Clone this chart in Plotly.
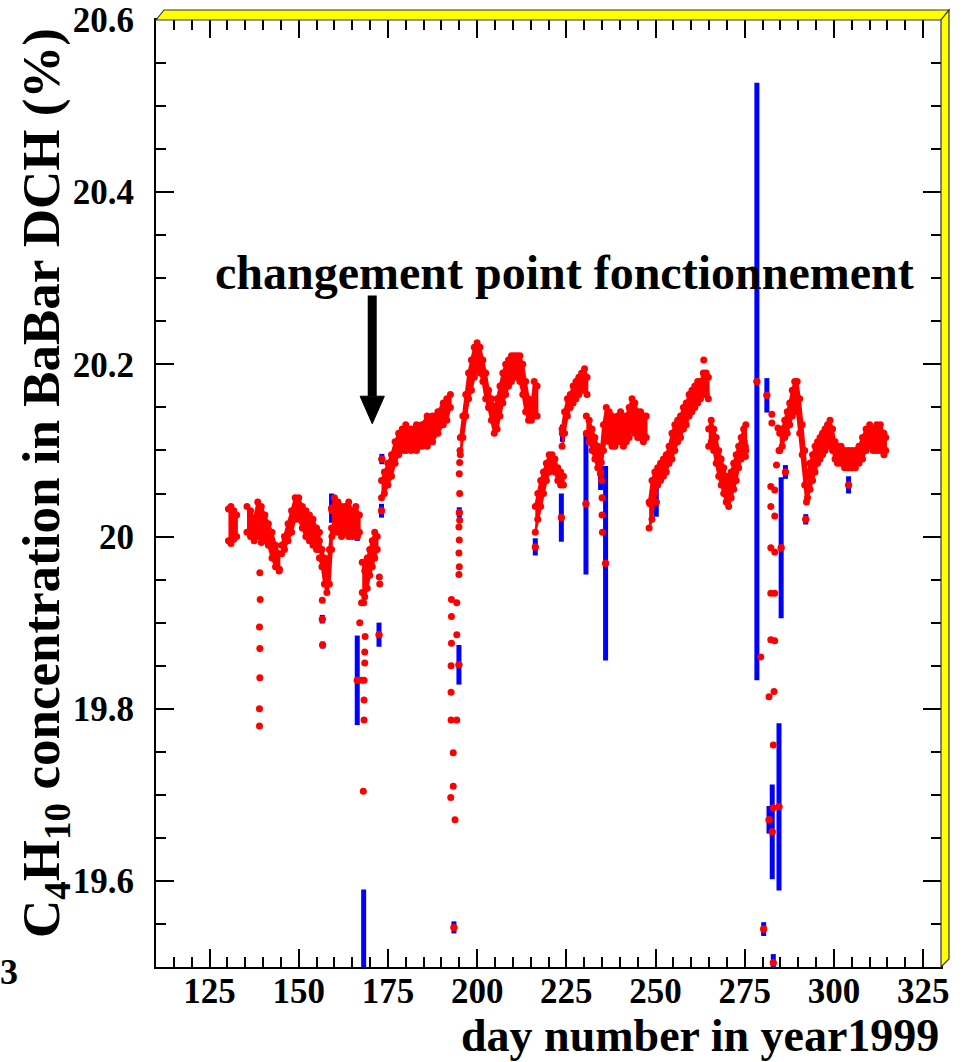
import plotly.graph_objects as go

# ---------------- data ----------------
x_range = [110, 330]
y_range = [19.5, 20.6]
x_ticks = [125, 150, 175, 200, 225, 250, 275, 300, 325]
y_ticks = [19.6, 19.8, 20.0, 20.2, 20.4, 20.6]
y_ticktext = ["19.6", "19.8", "20", "20.2", "20.4", "20.6"]

# continuous measurement bands: day, lower edge, upper edge
seg1_days = [130.3, 131.0, 131.8, 132.6]
seg1_lo = [19.995, 19.992, 19.997, 20.0]
seg1_hi = [20.032, 20.035, 20.03, 20.025]

seg2_days = [135.5, 136.5, 137.5, 138.5, 139.5, 140.5, 141.5, 142.5, 143.5, 144.5]
seg2_lo = [20.005, 20.0, 19.995, 20.0, 20.0, 19.995, 19.99, 19.975, 19.965, 19.96]
seg2_hi = [20.035, 20.03, 20.02, 20.04, 20.035, 20.025, 20.015, 20.005, 19.99, 19.98]

seg3_days = [145.2, 146, 147, 148, 149, 150, 151, 152, 153, 154, 155, 155.8]
seg3_lo = [19.98, 19.985, 19.995, 20.005, 20.02, 20.02, 20.01, 20.0, 19.995, 19.99, 19.985, 19.985]
seg3_hi = [19.99, 20.0, 20.015, 20.03, 20.045, 20.045, 20.035, 20.03, 20.025, 20.02, 20.01, 20.005]

seg4_days = [155.8, 156.5, 157.2, 157.9, 158.6, 159.2]
seg4_lo = [19.975, 19.965, 19.945, 19.935, 19.945, 19.985]
seg4_hi = [19.995, 19.985, 19.975, 19.965, 19.985, 20.01]

seg5_days = [159.3, 160, 161, 162, 163, 164, 165, 166, 167]
seg5_lo = [20.0, 20.005, 20.005, 20.0, 20.005, 20.0, 20.0, 20.0, 20.005]
seg5_hi = [20.03, 20.045, 20.04, 20.035, 20.035, 20.04, 20.03, 20.035, 20.025]

seg6_days = [167.8, 168.5, 169.2, 169.9, 170.6, 171.3, 172.0]
seg6_lo = [19.935, 19.93, 19.94, 19.955, 19.965, 19.975, 19.985]
seg6_hi = [19.97, 19.96, 19.975, 19.985, 19.995, 20.005, 20.0]

seg7_days = [173.2, 174, 175, 176, 177, 178, 179, 180, 181.5, 183, 184.5, 186, 187.5, 189, 190.5, 191.5, 192.5]
seg7_lo = [20.045, 20.05, 20.06, 20.07, 20.085, 20.095, 20.1, 20.1, 20.1, 20.1, 20.105, 20.105, 20.11, 20.12, 20.13, 20.135, 20.15]
seg7_hi = [20.065, 20.075, 20.085, 20.095, 20.11, 20.12, 20.125, 20.13, 20.125, 20.13, 20.13, 20.14, 20.14, 20.145, 20.155, 20.16, 20.165]

seg8_days = [195.3, 196, 196.8, 197.6, 198.4, 199.2, 200, 200.8, 201.6, 202.4, 203.2, 204, 204.8, 205.6,
             206.4, 207.2, 208, 208.8, 209.6, 210.4, 211.2, 212, 212.8, 213.6, 214.4, 215.2, 216, 216.8]
seg8_lo = [20.095, 20.115, 20.14, 20.16, 20.17, 20.185, 20.195, 20.19, 20.18, 20.16, 20.15, 20.135, 20.12, 20.125,
           20.14, 20.155, 20.165, 20.175, 20.18, 20.185, 20.185, 20.18, 20.165, 20.145, 20.135, 20.135, 20.14, 20.14]
seg8_hi = [20.115, 20.14, 20.165, 20.19, 20.205, 20.22, 20.225, 20.22, 20.205, 20.19, 20.17, 20.16, 20.15, 20.16,
           20.175, 20.19, 20.2, 20.205, 20.21, 20.21, 20.21, 20.21, 20.2, 20.18, 20.16, 20.15, 20.18, 20.175]

seg9_days = [216.3, 217, 217.8, 218.6, 219.4, 220.2, 221, 221.8, 222.6, 223.4, 224.2]
seg9_lo = [20.005, 20.02, 20.035, 20.05, 20.065, 20.075, 20.08, 20.075, 20.065, 20.06, 20.06]
seg9_hi = [20.035, 20.05, 20.065, 20.075, 20.085, 20.095, 20.095, 20.09, 20.08, 20.075, 20.07]

seg10_days = [223.8, 224.5, 225.3, 226.1, 226.9, 227.7, 228.5, 229.3, 230.1, 230.8]
seg10_lo = [20.105, 20.12, 20.14, 20.15, 20.155, 20.16, 20.165, 20.17, 20.17, 20.165]
seg10_hi = [20.125, 20.145, 20.16, 20.165, 20.175, 20.18, 20.185, 20.19, 20.195, 20.185]

seg11_days = [230.6, 231.4, 232.2, 233, 233.8, 234.6, 235.4, 236.2, 237, 237.8, 238.6, 239.4, 240.2, 241,
              241.8, 242.6, 243.4, 244.2, 245, 245.8, 246.6, 247.4]
seg11_lo = [20.12, 20.11, 20.1, 20.09, 20.08, 20.075, 20.1, 20.115, 20.11, 20.105, 20.105, 20.11, 20.11, 20.105,
            20.11, 20.115, 20.125, 20.12, 20.115, 20.115, 20.11, 20.115]
seg11_hi = [20.14, 20.135, 20.125, 20.115, 20.105, 20.095, 20.13, 20.15, 20.145, 20.14, 20.135, 20.14, 20.145, 20.14,
            20.14, 20.15, 20.16, 20.155, 20.145, 20.145, 20.14, 20.14]

seg12_days = [248.2, 249, 249.8, 250.6, 251.4, 252.2, 253, 253.8, 254.6, 255.4, 256.2, 257, 257.8, 258.6,
              259.4, 260.2, 261, 261.8, 262.6, 263.4, 264.2, 264.8]
seg12_lo = [20.01, 20.02, 20.05, 20.06, 20.065, 20.07, 20.075, 20.085, 20.09, 20.1, 20.11, 20.115, 20.125, 20.13,
            20.14, 20.145, 20.15, 20.155, 20.16, 20.165, 20.165, 20.16]
seg12_hi = [20.04, 20.065, 20.075, 20.08, 20.085, 20.09, 20.095, 20.105, 20.12, 20.13, 20.135, 20.14, 20.15, 20.155,
            20.165, 20.17, 20.175, 20.18, 20.18, 20.19, 20.19, 20.185]

seg13_days = [264.9, 265.6, 266.3, 267, 267.7, 268.4, 269.1, 269.8, 270.5, 271.2, 271.9, 272.6, 273.3, 274, 274.7, 275.3]
seg13_lo = [20.105, 20.11, 20.1, 20.085, 20.07, 20.06, 20.05, 20.04, 20.035, 20.045, 20.055, 20.065, 20.08, 20.09, 20.1, 20.1]
seg13_hi = [20.125, 20.135, 20.125, 20.115, 20.1, 20.09, 20.08, 20.07, 20.065, 20.075, 20.085, 20.095, 20.105, 20.115, 20.125, 20.13]

seg14_days = [284.8, 285.5, 286.2, 286.9, 287.6, 288.3, 289, 289.7, 290.4, 291.1, 291.8, 292.3]
seg14_lo = [20.1, 20.105, 20.115, 20.12, 20.13, 20.14, 20.15, 20.145, 20.12, 20.095, 20.06, 20.04]
seg14_hi = [20.12, 20.125, 20.135, 20.145, 20.155, 20.17, 20.18, 20.18, 20.16, 20.13, 20.1, 20.075]

seg15_days = [292.6, 293.3, 294, 294.7, 295.4, 296.1, 296.8, 297.5, 298.2, 298.9, 299.6, 300.3, 301, 302,
              303, 304, 305, 306, 307, 308, 309, 310, 311, 312, 313, 314, 314.5]
seg15_lo = [20.045, 20.055, 20.065, 20.075, 20.085, 20.09, 20.095, 20.1, 20.105, 20.11, 20.1, 20.09, 20.085, 20.085,
            20.08, 20.08, 20.08, 20.08, 20.085, 20.09, 20.1, 20.105, 20.1, 20.1, 20.1, 20.095, 20.1]
seg15_hi = [20.07, 20.085, 20.095, 20.105, 20.11, 20.115, 20.12, 20.125, 20.13, 20.135, 20.125, 20.11, 20.105, 20.105,
            20.1, 20.1, 20.1, 20.1, 20.105, 20.115, 20.125, 20.13, 20.125, 20.13, 20.13, 20.12, 20.115]

# isolated measurements (no visible error bar)
iso_days = [139.1, 139.2, 139.0, 139.1, 139.1, 139.0, 139.0, 139.5, 144.6, 156.6,
            167.6, 168.2, 167.1, 168.6, 168.5, 168.5, 167.6, 168.3, 168.3, 168.3, 168.1,
            172.6, 172.7,
            195.2, 195.1, 195.0, 195.1, 195.1, 194.9, 195.0, 194.9, 195.0, 194.9,
            192.8, 194.3, 192.8, 194.3, 192.8, 192.7, 192.7, 192.7, 194.3, 193.3, 193.3, 192.6, 193.8,
            234.8, 234.9, 235.0, 235.0, 235.1, 248.4, 263.5, 275.2, 279.5,
            282.6, 282.6, 284.3, 284.6, 283.9, 282.3, 283.4, 282.3, 283.4, 282.3, 283.4, 282.3, 283.4,
            282.3, 283.4, 281.8, 283.2, 283.0, 283.0]
iso_vals = [19.958, 19.927, 19.895, 19.870, 19.836, 19.800, 19.780, 19.993, 19.962, 19.926,
            19.923, 19.923, 19.900, 19.884, 19.866, 19.853, 19.833, 19.833, 19.810, 19.787, 19.704,
            19.953, 19.945,
            20.100, 20.086, 20.073, 20.050, 20.019, 20.011, 19.996, 19.981, 19.965, 19.956,
            19.927, 19.923, 19.907, 19.886, 19.876, 19.850, 19.819, 19.787, 19.787, 19.749, 19.710, 19.697, 19.671,
            20.086, 20.065, 20.045, 20.025, 20.005, 20.038, 20.205, 20.093, 19.860,
            20.142, 20.132, 20.126, 20.100, 20.083, 20.058, 20.054, 20.035, 20.024, 19.987, 19.982, 19.934, 19.934,
            19.880, 19.879, 19.814, 19.820, 19.758, 19.685]

# measurements with a visible error bar
err_days = [156.6, 156.7, 159.2, 166.4, 166.4, 168.2, 172.5, 173.3, 173.2, 186.0, 193.5, 194.9, 195.0,
            203.4, 216.3, 223.6, 223.9, 230.5, 234.6, 236.0, 243.3, 250.2, 275.1, 278.4, 280.3,
            281.2, 281.8, 282.7, 284.6, 283.0, 285.2, 286.4, 292.1, 304.1]
err_vals = [19.904, 19.874, 20.033, 20.000, 19.833, 19.420, 19.886, 20.090, 20.030, 20.110, 19.546, 19.851, 20.028,
            20.152, 19.988, 20.022, 20.120, 20.038, 20.073, 19.969, 20.128, 20.040, 20.105, 20.180, 19.544,
            20.164, 19.671, 19.657, 19.686, 19.505, 19.987, 20.075, 20.020, 20.060]
err_size = [0.005, 0.004, 0.017, 0.005, 0.052, 0.170, 0.014, 0.006, 0.008, 0.004, 0.007, 0.023, 0.006,
            0.006, 0.010, 0.028, 0.010, 0.082, 0.019, 0.113, 0.005, 0.017, 0.007, 0.347, 0.008,
            0.020, 0.016, 0.055, 0.097, 0.010, 0.082, 0.008, 0.006, 0.010]

annotation_text = "changement point fonctionnement"
annotation_pos = (224.4, 20.307)
arrow_x = 170.6
arrow_top, arrow_base, arrow_tip = 20.280, 20.163, 20.131
arrow_half_width = 3.4

segments = [
    (seg1_days, seg1_lo, seg1_hi), (seg2_days, seg2_lo, seg2_hi), (seg3_days, seg3_lo, seg3_hi),
    (seg4_days, seg4_lo, seg4_hi), (seg5_days, seg5_lo, seg5_hi), (seg6_days, seg6_lo, seg6_hi),
    (seg7_days, seg7_lo, seg7_hi), (seg8_days, seg8_lo, seg8_hi), (seg9_days, seg9_lo, seg9_hi),
    (seg10_days, seg10_lo, seg10_hi), (seg11_days, seg11_lo, seg11_hi), (seg12_days, seg12_lo, seg12_hi),
    (seg13_days, seg13_lo, seg13_hi), (seg14_days, seg14_lo, seg14_hi), (seg15_days, seg15_lo, seg15_hi),
]

# ---------------- figure ----------------
RED = "#ff0000"
BLUE = "#0000ff"
FONT = "Liberation Serif"

poly_x, poly_y, edge_x, edge_y = [], [], [], []
for d, lo, hi in segments:
    poly_x += list(d) + list(d)[::-1] + [None]
    poly_y += list(hi) + list(lo)[::-1] + [None]
    edge_x += list(d) + list(d)
    edge_y += list(hi) + list(lo)

fig = go.Figure()

fig.add_trace(go.Scatter(
    x=err_days, y=err_vals, mode="markers",
    marker=dict(color=RED, size=7, symbol="circle"),
    error_y=dict(type="data", array=err_size, color=BLUE, thickness=5, width=0),
    showlegend=False, hoverinfo="skip"))

fig.add_trace(go.Scatter(
    x=poly_x, y=poly_y, mode="lines", fill="toself", fillcolor=RED,
    line=dict(color=RED, width=2.5), showlegend=False, hoverinfo="skip"))

fig.add_trace(go.Scatter(
    x=edge_x, y=edge_y, mode="markers",
    marker=dict(color=RED, size=7, symbol="circle"),
    showlegend=False, hoverinfo="skip"))

fig.add_trace(go.Scatter(
    x=iso_days, y=iso_vals, mode="markers",
    marker=dict(color=RED, size=7, symbol="circle"),
    showlegend=False, hoverinfo="skip"))

# marker redraw on top of error bars
fig.add_trace(go.Scatter(
    x=err_days, y=err_vals, mode="markers",
    marker=dict(color=RED, size=7, symbol="circle"),
    showlegend=False, hoverinfo="skip"))

L, R, T, B = 156, 29, 20, 95
W, H = 970, 1062
PW, PH = W - L - R, H - T - B


def px(xp):
    return (xp - L) / PW


def py(yp):
    return (H - B - yp) / PH


shapes = []
# yellow 3D frame border (top and right)
top_path = f"M {px(156)} {py(20)} L {px(164)} {py(10)} L {px(949)} {py(10)} L {px(941)} {py(20)} Z"
right_path = f"M {px(941)} {py(20)} L {px(949)} {py(10)} L {px(949)} {py(959)} L {px(941)} {py(967)} Z"
for p in (top_path, right_path):
    shapes.append(dict(type="path", path=p, xref="paper", yref="paper",
                       fillcolor="#ffff00", line=dict(color="#333333", width=1.2), layer="above"))

# arrow
shapes.append(dict(type="line", xref="x", yref="y", x0=arrow_x, x1=arrow_x, y0=arrow_top, y1=arrow_base,
                   line=dict(color="black", width=9)))
shapes.append(dict(type="path", xref="x", yref="y",
                   path=f"M {arrow_x - arrow_half_width} {arrow_base} L {arrow_x + arrow_half_width} {arrow_base} "
                        f"L {arrow_x} {arrow_tip} Z",
                   fillcolor="black", line=dict(color="black", width=1)))

annotations = [
    dict(text=annotation_text, x=annotation_pos[0], y=annotation_pos[1], xref="x", yref="y",
         showarrow=False, xanchor="center", yanchor="middle",
         font=dict(family=FONT, size=48, color="black", weight="bold")),
    dict(text="C<sub>4</sub>H<sub>10</sub> concentration in BaBar DCH (%)",
         x=px(45), y=py(483), xref="paper", yref="paper", textangle=-90,
         showarrow=False, xanchor="center", yanchor="middle",
         font=dict(family=FONT, size=53, color="black", weight="bold")),
    dict(text="day number in year1999", x=px(941), y=py(1035), xref="paper", yref="paper",
         showarrow=False, xanchor="right", yanchor="middle",
         font=dict(family=FONT, size=46, color="black", weight="bold")),
    dict(text="3", x=px(9), y=py(972), xref="paper", yref="paper",
         showarrow=False, xanchor="center", yanchor="middle",
         font=dict(family=FONT, size=36, color="black", weight="bold")),
]

axis_common = dict(showgrid=False, zeroline=False, showline=True, linecolor="black", linewidth=2,
                   ticks="inside", tickcolor="black", tickwidth=2, mirror="ticks",
                   tickfont=dict(family=FONT, size=35, color="black", weight="bold"))

fig.update_layout(
    width=W, height=H, margin=dict(l=L, r=R, t=T, b=B, autoexpand=False),
    paper_bgcolor="white", plot_bgcolor="white", showlegend=False,
    shapes=shapes, annotations=annotations,
    xaxis=dict(range=x_range, tickvals=x_ticks, ticklen=18, ticklabelstandoff=-8,
               minor=dict(dtick=5, tick0=0, ticklen=10, ticks="inside", tickcolor="black", tickwidth=1.5),
               **axis_common),
    yaxis=dict(range=y_range, tickvals=y_ticks, ticktext=y_ticktext, ticklen=18, ticklabelstandoff=13,
               minor=dict(dtick=0.05, tick0=19.5, ticklen=10, ticks="inside", tickcolor="black", tickwidth=1.5),
               **axis_common),
)

fig.write_html("out.html")
